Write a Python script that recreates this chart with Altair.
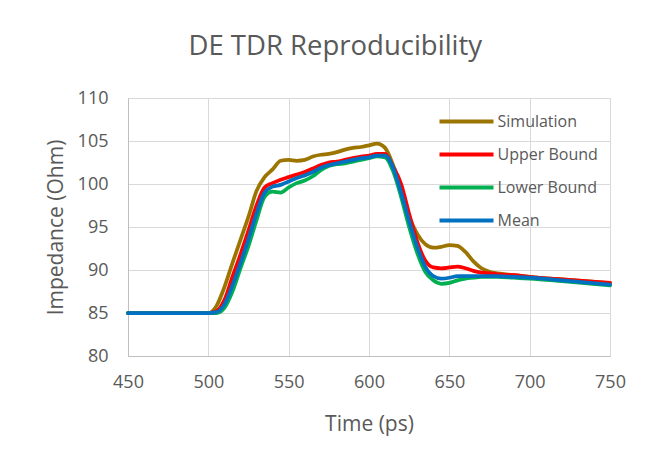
import altair as alt
import pandas as pd

time_ps = [450, 500, 505, 510, 515, 520, 525, 530, 535, 540, 545, 550, 555, 560, 565, 570,
           575, 580, 585, 590, 595, 600, 605, 610, 615, 620, 625, 630, 635, 640, 645, 650,
           655, 660, 665, 670, 675, 680, 690, 700, 720, 750]

simulation = [85, 85, 85.8, 88.0, 90.8, 93.5, 96.2, 99.2, 100.8, 101.7, 102.7, 102.8, 102.7, 102.8,
              103.2, 103.4, 103.5, 103.7, 104.0, 104.2, 104.3, 104.5, 104.7, 104.2, 102.2, 99.5,
              96.2, 94.2, 93.0, 92.6, 92.7, 92.9, 92.8, 92.1, 91.0, 90.2, 89.8, 89.6, 89.4, 89.2,
              88.9, 88.5]

upper = [85, 85, 85.2, 86.5, 89.2, 91.8, 94.6, 97.5, 99.6, 100.1, 100.5, 100.8, 101.1, 101.4,
         101.8, 102.2, 102.5, 102.6, 102.8, 103.0, 103.2, 103.3, 103.5, 103.5, 102.0, 100.0,
         96.5, 93.3, 91.1, 90.3, 90.2, 90.3, 90.4, 90.2, 89.9, 89.7, 89.6, 89.5, 89.4, 89.2,
         88.9, 88.5]

lower = [85, 85, 85.0, 85.6, 87.5, 90.2, 92.8, 95.8, 98.5, 99.1, 99.0, 99.6, 100.1, 100.4,
         100.9, 101.6, 102.1, 102.3, 102.4, 102.6, 102.8, 103.0, 103.2, 103.1, 101.5, 98.5,
         95.0, 92.0, 89.8, 88.8, 88.4, 88.5, 88.8, 89.0, 89.1, 89.2, 89.2, 89.2, 89.1, 89.0,
         88.7, 88.2]

mean = [85, 85, 85.1, 86.0, 88.2, 90.8, 93.6, 96.6, 99.0, 99.7, 99.9, 100.3, 100.7, 101.0,
        101.4, 101.9, 102.2, 102.4, 102.6, 102.8, 103.0, 103.1, 103.3, 103.3, 101.9, 99.0,
        95.7, 92.7, 90.4, 89.3, 89.0, 89.1, 89.3, 89.3, 89.3, 89.3, 89.3, 89.3, 89.2, 89.1,
        88.8, 88.3]

series_names = ["Simulation", "Upper Bound", "Lower Bound", "Mean"]
series_colors = ["#9c7500", "#ff0000", "#00b050", "#0070c0"]
x_ticks = [450, 500, 550, 600, 650, 700, 750]
y_ticks = [80, 85, 90, 95, 100, 105, 110]

rows = []
for name, vals in zip(series_names, [simulation, upper, lower, mean]):
    for t, v in zip(time_ps, vals):
        rows.append({"Time": t, "Impedance": v, "Series": name,
                     "order": series_names.index(name)})
df = pd.DataFrame(rows)

FONT = "Open Sans"
GREY = "#595959"

chart = alt.Chart(df).mark_line(strokeWidth=3.75, interpolate="monotone", strokeCap="round").encode(
    x=alt.X("Time:Q", scale=alt.Scale(domain=[450, 750], nice=False),
            axis=alt.Axis(values=x_ticks, title="Time (ps)", grid=True, gridColor="#d9d9d9",
                          domainColor="#bfbfbf", ticks=False, labelPadding=17,
                          labelFlush=False,
                          labelFontSize=18, labelColor=GREY, labelFont=FONT,
                          titleFontSize=21, titleColor=GREY, titleFont=FONT,
                          titleFontWeight="normal", titlePadding=22)),
    y=alt.Y("Impedance:Q", scale=alt.Scale(domain=[80, 110], nice=False),
            axis=alt.Axis(values=y_ticks, title="Impedance (Ohm)", grid=True,
                          gridColor="#d9d9d9", domainColor="#bfbfbf", ticks=False,
                          labelPadding=20, labelFontSize=18, labelColor=GREY,
                          labelFlush=False,
                          labelFont=FONT, titleFontSize=21, titleColor=GREY,
                          titleFont=FONT, titleFontWeight="normal", titlePadding=11)),
    color=alt.Color("Series:N",
                    scale=alt.Scale(domain=series_names, range=series_colors),
                    legend=alt.Legend(title=None, orient="none", legendX=345.5, legendY=12.5,
                                      symbolType="M-5,0H1", symbolSize=324,
                                      symbolStrokeWidth=4, symbolFillColor="transparent",
                                      labelFontSize=16, padding=0,
                                      labelColor=GREY, labelFont=FONT, rowPadding=14,
                                      labelOffset=2)),
    order=alt.Order("order:Q"),
    detail="Series:N",
).properties(
    width=482, height=258,
    title=alt.TitleParams("DE TDR Reproducibility", fontSize=27.5, color=GREY, font=FONT,
                          fontWeight="normal", anchor="middle", frame="bounds", offset=29),
    autosize=alt.AutoSizeParams(type="none"),
    padding={"left": 120, "top": 90, "right": 29, "bottom": 100},
).configure_view(stroke=None).configure(background="white")

chart.save("out.html", embed_options={"renderer": "svg", "actions": False})
